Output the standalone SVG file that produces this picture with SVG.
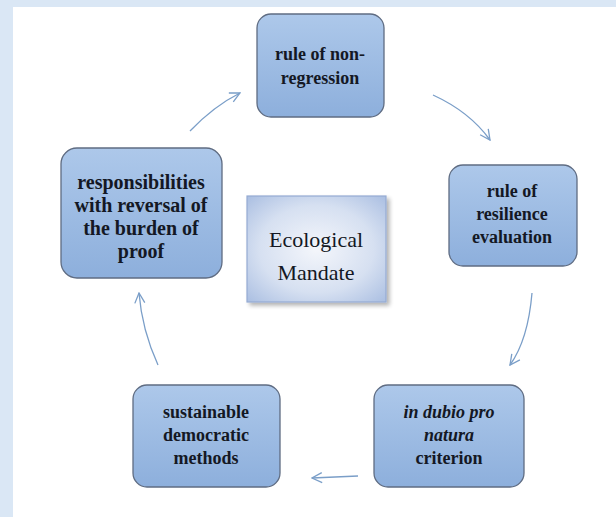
<svg xmlns="http://www.w3.org/2000/svg" width="616" height="517" viewBox="0 0 616 517">
  <defs>
    <linearGradient id="boxFill" x1="0" y1="0" x2="0" y2="1">
      <stop offset="0" stop-color="#adc8ea"/>
      <stop offset="1" stop-color="#8dafdc"/>
    </linearGradient>
    <radialGradient id="centerFill" cx="0.5" cy="0.5" r="0.75">
      <stop offset="0" stop-color="#f4f6fb"/>
      <stop offset="0.55" stop-color="#d6e0f1"/>
      <stop offset="1" stop-color="#a3b9df"/>
    </radialGradient>
    <filter id="shadow" x="-10%" y="-10%" width="125%" height="125%">
      <feGaussianBlur in="SourceAlpha" stdDeviation="2"/>
      <feOffset dx="3" dy="3"/>
      <feComponentTransfer><feFuncA type="linear" slope="0.3"/></feComponentTransfer>
      <feMerge><feMergeNode/><feMergeNode in="SourceGraphic"/></feMerge>
    </filter>
    <marker id="open" viewBox="0 0 12 12" refX="11" refY="6" markerWidth="12" markerHeight="12" markerUnits="userSpaceOnUse" orient="auto">
      <path d="M1,1 L11,6 L1,11" fill="none" stroke="#7a9ec8" stroke-width="1.3"/>
    </marker>
  </defs>
  <style>
    .box { fill: url(#boxFill); stroke: #5f6c82; stroke-width: 1.3; }
    .lbl { font-family: 'Liberation Serif', 'DejaVu Serif', serif; font-weight: bold; font-size: 18px; fill: #141824; text-anchor: middle; }
    .big { font-size: 20px; }
    .ital { font-style: italic; }
    .center { font-family: 'Liberation Serif', 'DejaVu Serif', serif; font-size: 22px; fill: #141824; text-anchor: middle; }
    .conn { fill: none; stroke: #7a9ec8; stroke-width: 1.3; marker-end: url(#open); }
  </style>

  <!-- page background -->
  <rect x="0" y="0" width="616" height="517" fill="#dae7f5"/>
  <rect x="13" y="7" width="603" height="510" fill="#ffffff"/>

  <g id="connectors">
    <path class="conn" d="M433,95 Q470,112 490,140"/>
    <path class="conn" d="M532,293 Q528,340 510,365"/>
    <path class="conn" d="M358,476 L312,478"/>
    <path class="conn" d="M158,365 Q142,330 139,293"/>
    <path class="conn" d="M190,131 Q214,106 240,93"/>
  </g>

  <g id="center">
    <rect x="247" y="196" width="139" height="106" fill="url(#centerFill)" stroke="#95abd2" stroke-width="1.2" filter="url(#shadow)"/>
    <text class="center" x="316" y="247">Ecological</text>
    <text class="center" x="316" y="280">Mandate</text>
  </g>

  <g id="non-regression">
    <rect class="box" x="257" y="14" width="127" height="103" rx="14"/>
    <text class="lbl" x="320" y="60">rule of non-</text>
    <text class="lbl" x="320" y="84">regression</text>
  </g>

  <g id="resilience">
    <rect class="box" x="449" y="165" width="128" height="101" rx="14"/>
    <text class="lbl" x="512" y="197">rule of</text>
    <text class="lbl" x="512" y="220">resilience</text>
    <text class="lbl" x="512" y="243">evaluation</text>
  </g>

  <g id="in-dubio">
    <rect class="box" x="374" y="385" width="150" height="102" rx="14"/>
    <text class="lbl ital" x="449" y="418">in dubio pro</text>
    <text class="lbl ital" x="449" y="441">natura</text>
    <text class="lbl" x="449" y="464">criterion</text>
  </g>

  <g id="democratic">
    <rect class="box" x="133" y="385" width="147" height="102" rx="14"/>
    <text class="lbl" x="206" y="418">sustainable</text>
    <text class="lbl" x="206" y="441">democratic</text>
    <text class="lbl" x="206" y="464">methods</text>
  </g>

  <g id="responsibilities">
    <rect class="box" x="61" y="148" width="161" height="130" rx="16"/>
    <text class="lbl big" x="141" y="189">responsibilities</text>
    <text class="lbl big" x="141" y="212">with reversal of</text>
    <text class="lbl big" x="141" y="235">the burden of</text>
    <text class="lbl big" x="141" y="258">proof</text>
  </g>
</svg>
